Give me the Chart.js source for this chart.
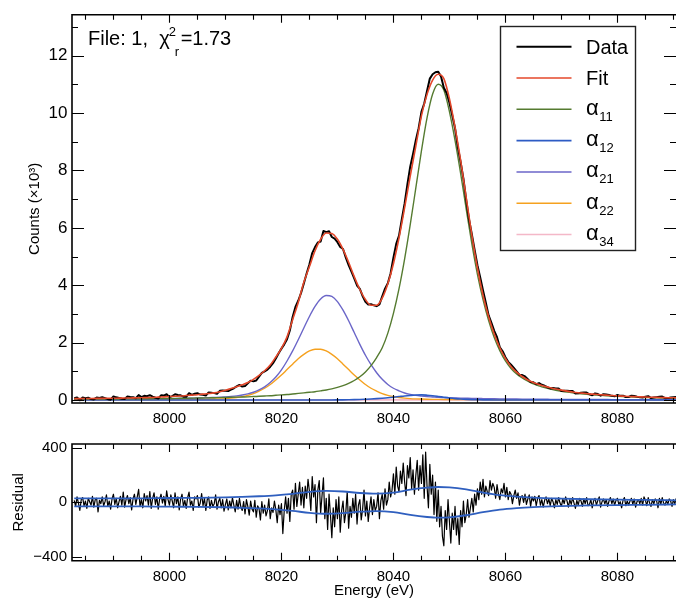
<!DOCTYPE html>
<html>
<head>
<meta charset="utf-8">
<script src="https://cdn.jsdelivr.net/npm/chart.js@4.4.1/dist/chart.umd.min.js"></script>
<style>
html,body{margin:0;padding:0;background:#fff;overflow:hidden;}
#wrap{position:relative;width:676px;height:598px;background:#fff;}
canvas{position:absolute;left:0;}
#topChart{top:0;}
#resChart{top:430px;}
</style>
</head>
<body>
<div id="wrap">
<canvas id="topChart" width="676" height="430"></canvas>
<canvas id="resChart" width="676" height="168"></canvas>
</div>
<script>
// ---------------- data ----------------
// energy axis (eV)
const energyStart = 7983;           // first sample of every series
const xMajorTicks = [8000, 8020, 8040, 8060, 8080];
const xMinorTicks = [7985, 7990, 7995, 8005, 8010, 8015, 8025, 8030, 8035, 8045, 8050, 8055, 8065, 8070, 8075, 8085, 8090];
const countsMajorTicks = [0, 2, 4, 6, 8, 10, 12];
const countsMinorTicks = [1, 3, 5, 7, 9, 11, 13];
const residualTicks = [-400, 0, 400];

// smooth curves, one value per eV from 7983 to 8091 (counts x10^3)
const fitCounts = [
  .05,.05,.052,.054,.056,.058,.06,.062,.065,.068,
  .072,.076,.08,.085,.09,.1,.11,.12,.13,.14,
  .155,.17,.185,.205,.225,.25,.29,.34,.4,.46,
  .53,.61,.72,.86,1.02,1.22,1.5,1.8,2.2,2.8,
  3.4,4.1,4.65,5.2,5.6,5.82,5.8,5.6,5.25,4.8,
  4.3,3.85,3.5,3.3,3.3,3.55,4.05,4.75,5.65,6.7,
  7.8,8.85,9.9,10.65,11.15,11.35,11.2,10.5,9.5,8.35,
  7.05,5.75,4.6,3.65,2.9,2.3,1.82,1.45,1.17,.97,
  .82,.7,.61,.54,.48,.43,.385,.345,.31,.28,
  .255,.235,.215,.2,.185,.17,.155,.145,.135,.125,
  .117,.11,.103,.097,.091,.086,.081,.077,.073
];
const alpha11 = [
  .029,.03,.031,.032,.033,.034,.035,.036,.037,.039,
  .04,.042,.043,.045,.047,.049,.051,.053,.056,.059,
  .062,.065,.068,.072,.076,.08,.085,.09,.095,.1,
  .105,.11,.12,.13,.14,.15,.165,.18,.19,.21,
  .23,.25,.27,.29,.32,.35,.39,.44,.5,.58,
  .68,.81,.98,1.2,1.48,1.82,2.33,3.02,3.88,4.92,
  6.11,7.39,8.68,9.83,10.66,11.0,10.8,10.05,9.05,7.9,
  6.65,5.45,4.38,3.5,2.77,2.18,1.72,1.36,1.1,.91,
  .77,.66,.56,.49,.43,.38,.34,.305,.275,.25,
  .228,.208,.19,.175,.16,.147,.136,.126,.117,.108,
  .1,.093,.086,.08,.074,.069,.064,.06,.056
];
const alpha12 = [
  .001,.001,.001,.001,.001,.001,.001,.001,.001,.001,
  .001,.001,.001,.001,.001,.001,.001,.001,.001,.001,
  .001,.001,.001,.001,.001,.001,.001,.001,.001,.001,
  .001,.001,.001,.001,.001,.001,.002,.002,.002,.002,
  .002,.002,.002,.003,.003,.003,.003,.004,.006,.009,
  .013,.019,.027,.036,.048,.062,.078,.098,.12,.142,
  .16,.174,.178,.168,.15,.125,.098,.072,.05,.034,
  .022,.014,.009,.006,.004,.003,.002,.002,.002,.001,
  .001,.001,.001,.001,.001,.001,.001,.001,.001,.001,
  .001,.001,.001,.001,.001,.001,.001,.001,.001,.001,
  .001,.001,.001,.001,.001,.001,.001,.001,.001
];
const alpha21 = [
  .019,.02,.021,.022,.023,.024,.025,.026,.027,.029,
  .03,.032,.034,.036,.038,.041,.044,.047,.05,.054,
  .058,.063,.068,.074,.08,.088,.096,.11,.126,.146,
  .174,.214,.27,.35,.46,.61,.8,1.05,1.36,1.71,
  2.1,2.51,2.91,3.26,3.52,3.64,3.61,3.43,3.13,2.76,
  2.35,1.94,1.56,1.23,.95,.72,.54,.41,.32,.245,
  .196,.16,.137,.119,.106,.093,.085,.078,.072,.066,
  .062,.058,.053,.05,.047,.044,.041,.038,.036,.034,
  .032,.03,.028,.027,.026,.024,.023,.022,.021,.02,
  .019,.019,.018,.017,.017,.016,.015,.015,.014,.014,
  .013,.013,.012,.012,.011,.011,.011,.01,.01
];
const alpha22 = [
  .006,.006,.007,.007,.007,.008,.008,.008,.009,.009,
  .009,.01,.01,.011,.011,.012,.014,.015,.016,.017,
  .018,.02,.022,.024,.028,.033,.04,.05,.065,.087,
  .12,.16,.22,.31,.41,.54,.7,.87,1.06,1.25,
  1.44,1.59,1.71,1.77,1.77,1.71,1.59,1.44,1.25,1.06,
  .87,.7,.54,.41,.31,.22,.16,.12,.087,.065,
  .05,.04,.033,.028,.024,.022,.02,.018,.017,.016,
  .015,.014,.013,.012,.012,.011,.011,.01,.01,.01,
  .009,.009,.009,.008,.008,.008,.007,.007,.007,.007,
  .006,.006,.006,.006,.006,.005,.005,.005,.005,.005,
  .004,.004,.004,.004,.004,.004,.003,.003,.003
];
// alpha34 is flat on the baseline; a few samples across the range
const alpha34Energy = [7983, 8000, 8020, 8040, 8060, 8080, 8091];
const alpha34 = [.003, .004, .005, .006, .005, .004, .003];

// measured spectrum, one value every 0.5 eV from 7983 (counts x10^3)
const dataCounts = [
  .065,.09, -.01,.086, .062,.083, .034,.02, .086,.072, .098,.064, .03,.011, .122,.093, .07,.046, .033,.12,
  .107,.099, .061,.173, .1,.147, .135,.167, .12,.08, .05,.165, .155,.2, .1,.135, .2,.175, .165,.117,
  .11,.237, .18,.217, .235,.19, .18,.155, .265,.252, .24,.22, .32,.335, .325,.315, .36,.41, .475,.525,
  .47,.485, .58,.675, .65,.68, .815,.945, 1.0,1.06, 1.16,1.285, 1.445,1.63, 1.79,1.94, 2.12,2.42, 2.89,3.24,
  3.46,3.73, 4.06,4.41, 4.73,5.12, 5.33,5.49, 5.52,5.89, 5.85,5.88, 5.68,5.62, 5.5,5.33, 5.26,4.96, 4.7,4.47,
  4.24,3.99, 3.87,3.62, 3.42,3.33, 3.34,3.3, 3.27,3.33, 3.61,3.88, 4.07,4.42, 4.96,5.44, 5.73,6.3, 6.85,7.52,
  8.13,8.57, 9.05,9.47, 10.04,10.33, 10.77,11.2, 11.35,11.42, 11.44,11.27, 10.88,10.7, 10.36,9.92, 9.47,8.81, 8.29,7.71,
  6.96,6.29, 5.78,5.23, 4.7,4.27, 3.82,3.39, 2.95,2.69, 2.41,2.19, 1.84,1.7, 1.49,1.33, 1.23,1.12, 1.0,.875,
  .87,.82, .725,.625, .62,.55, .59,.53, .495,.445, .405,.415, .405,.4, .315,.32, .32,.315, .315,.223,
  .235,.255, .26,.26, .2,.167, .23,.207, .15,.202, .19,.172, .145,.13, .175,.145, .15,.105, .105,.151,
  .142,.118, .1,.087, .118,.135, .067,.084, .101,.118, .121,.063, .066,.089, .097,.105, .068
];

// residual (counts), one value every 0.25 eV from 7983
const residual = [
  15,-30,40,-5, -60,20,35,-25, 10,-45,30,5, -20,45,-35,20, 30,-70,15,-10,
  40,-25,5,55, -30,10,-50,25, 60,-15,30,-40, 5,45,-20,75, -35,20,50,-10,
  35,-55,25,60, -15,40,95,-30, 20,-40,65,10, 50,-20,80,-45, 30,70,-15,40,
  -50,25,60,-5, 45,-30,85,20, -20,55,10,-40, 70,-10,40,-55, 25,60,-30,15,
  -45,35,75,-20, 10,-60,40,25, 50,-35,-5,65, -25,30,-60,20, 40,-45,15,-30,
  -10,55,-50,5, 30,-40,20,-65, -15,25,-55,10, -40,35,-20,-70, 15,-50,30,-35,
  -60,5,-85,20, -30,-95,10,-50, -70,15,-110,-25, -45,-130,5,-80, -20,-100,-60,25,
  -120,-40,-75,10, -55,-150,-20,-90, -10,-230,-60,40, -80,30,-140,60, 90,-50,140,-30,
  60,150,-20,110, -40,120,30,170, 80,-60,190,40, 130,-150,90,160, -80,50,180,-120,
  30,-200,60,-90, -260,-40,-180,20, -120,40,-220,-60, 10,-150,-70,80, -190,-30,-110,30,
  -80,60,-160,-20, 20,-130,-50,90, -100,10,-140,-40, 40,-90,20,-60, -30,70,-120,10,
  60,-50,100,-20, 20,150,40,90, 210,60,260,120, 80,230,140,290, 150,50,270,180,
  330,100,240,60, 200,310,90,270, 140,350,30,370, 120,-40,280,60, 200,-90,150,-140,
  90,-180,-30,-250, -320,-60,-200,20, -140,-300,-80,-200, -30,-240,-120,-310, -60,-180,10,-150,
  -90,20,-110,-40, 30,-70,60,-20, 100,20,150,60, 170,40,120,80, 50,160,90,140,
  110,30,130,60, 20,100,70,140, 40,110,20,80, 60,-10,50,90, 30,70,-20,40,
  50,0,60,-15, 25,55,-30,40, 10,45,-25,30, 50,-20,20,-35, 15,40,-10,25,
  -25,30,5,-40, 20,-15,35,-5, -30,25,-10,40, 10,-35,20,-15, 35,-5,-45,15,
  -20,30,10,-30, 25,-10,35,-25, -15,20,-40,10, 30,-20,15,40, -35,5,25,-10,
  20,-30,10,35, -10,25,-20,15, 30,-15,5,-40, 15,35,-25,10, -20,10,30,-15,
  25,-35,5,20, -10,30,-20,40, 15,-25,35,-5, -30,20,-10,25, 10,-40,30,-15,
  35,-5,-20,15, -15,25,10,-30, 20,-10,30,-20, -5
];

// one-sigma band of the residual (counts)
const envelopeEnergy = [7983, 7990, 7995, 8000, 8005, 8010, 8013, 8016, 8019, 8022, 8025, 8028, 8031, 8034, 8037, 8040, 8043, 8046, 8048, 8050, 8053, 8056, 8059, 8062, 8065, 8070, 8075, 8080, 8085, 8091];
const envelopeSigma  = [29, 29, 30, 32, 33, 36, 40, 45, 52, 63, 77, 84, 80, 69, 64, 72, 93, 108, 113, 110, 95, 72, 53, 42, 35, 28, 23, 20, 18, 15];

// legend
const legendNames = ['Data', 'Fit', 'α', 'α', 'α', 'α', 'α'];
const legendSubs  = ['', '', '11', '12', '21', '22', '34'];

// ---------------- styling ----------------
const FONT = '"Liberation Sans", Arial, Helvetica, sans-serif';
const COLORS = {
  data: '#000000', fit: '#e4472a', a11: '#557b30', a12: '#2d5bc4',
  a21: '#6b66c8', a22: '#f5a11f', a34: '#f4b8c8', env: '#2f5fbf'
};
const legendColors = [COLORS.data, COLORS.fit, COLORS.a11, COLORS.a12, COLORS.a21, COLORS.a22, COLORS.a34];
const legendWidths = [2, 1.5, 1.5, 1.8, 1.5, 1.5, 1.5];

function grid(start, step, n) {
  const g = [];
  for (let i = 0; i < n; i++) g.push(+(start + i * step).toFixed(2));
  return g;
}
function pts(xs, ys) { return ys.map((v, i) => ({ x: xs[i], y: v })); }

const energy1 = grid(energyStart, 1, fitCounts.length);
const energyHalf = grid(energyStart, 0.5, dataCounts.length);
const energyQuarter = grid(energyStart, 0.25, residual.length);

const X_MIN = 7982.6, X_MAX = 8090.46;

function framePlugin(cfg) {
  return {
    id: 'frameTicks',
    afterDatasetsDraw(chart) {
      const { ctx, chartArea: a } = chart;
      const xs = chart.scales.x, ys = chart.scales.y;
      ctx.save();
      ctx.strokeStyle = '#000';
      ctx.lineWidth = 1.6;
      ctx.beginPath();
      ctx.moveTo(a.right + 3, a.top); ctx.lineTo(a.left, a.top);
      ctx.lineTo(a.left, a.bottom); ctx.lineTo(a.right + 3, a.bottom);
      ctx.stroke();
      ctx.lineWidth = 1.1;
      ctx.beginPath();
      const vt = (v, len) => {
        const p = Math.round(xs.getPixelForValue(v)) + 0.5;
        ctx.moveTo(p, a.bottom); ctx.lineTo(p, a.bottom - len);
        ctx.moveTo(p, a.top); ctx.lineTo(p, a.top + len);
      };
      const ht = (v, len, right) => {
        const p = Math.round(ys.getPixelForValue(v)) + 0.5;
        ctx.moveTo(a.left, p); ctx.lineTo(a.left + len, p);
        if (right) { ctx.moveTo(a.right, p); ctx.lineTo(a.right - len, p); }
      };
      xMajorTicks.forEach(v => vt(v, cfg.xMajorLen));
      xMinorTicks.forEach(v => vt(v, cfg.xMinorLen));
      cfg.yMajor.forEach(v => ht(v, cfg.yMajorLen, cfg.right));
      cfg.yMinor.forEach(v => ht(v, cfg.yMinorLen, cfg.right));
      ctx.stroke();
      ctx.restore();
    }
  };
}

const titlePlugin = {
  id: 'fileTitle',
  afterDraw(chart) {
    const ctx = chart.ctx;
    ctx.save();
    ctx.fillStyle = '#000';
    ctx.textBaseline = 'alphabetic';
    ctx.textAlign = 'left';
    ctx.font = '20px ' + FONT;
    let x = 88; const y = 45;
    const p1 = 'File: 1,  χ';
    ctx.fillText(p1, x, y);
    x += ctx.measureText(p1).width;
    ctx.font = '13px ' + FONT;
    ctx.fillText('2', x - 1, y - 9);
    ctx.fillText('r', x + 5, y + 11);
    ctx.font = '20px ' + FONT;
    ctx.fillText('=1.73', x + 11, y);
    ctx.restore();
  }
};

const legendPlugin = {
  id: 'boxLegend',
  afterDraw(chart) {
    const ctx = chart.ctx;
    ctx.save();
    ctx.fillStyle = '#fff';
    ctx.fillRect(500.5, 26.5, 135, 224);
    ctx.strokeStyle = '#222';
    ctx.lineWidth = 1.4;
    ctx.strokeRect(500.5, 26.5, 135, 224);
    legendNames.forEach((name, i) => {
      const ry = 46.7 + i * 31.3;
      ctx.strokeStyle = legendColors[i];
      ctx.lineWidth = legendWidths[i];
      ctx.beginPath();
      ctx.moveTo(516.5, ry); ctx.lineTo(571.5, ry);
      ctx.stroke();
      ctx.fillStyle = '#000';
      ctx.textAlign = 'left';
      ctx.textBaseline = 'alphabetic';
      if (legendSubs[i]) {
        ctx.font = '22px ' + FONT;
        ctx.fillText(name, 586, ry + 5.5);
        const w = ctx.measureText(name).width;
        ctx.font = '13px ' + FONT;
        ctx.fillText(legendSubs[i], 586 + w + 0.5, ry + 11.5);
      } else {
        ctx.font = '20px ' + FONT;
        ctx.fillText(name, 586, ry + 7);
      }
    });
    ctx.restore();
  }
};

const baseLine = { pointRadius: 0, pointHoverRadius: 0, fill: false, borderJoinStyle: 'round' };

// ---------------- top panel ----------------
new Chart(document.getElementById('topChart'), {
  type: 'line',
  data: {
    datasets: [
      { ...baseLine, label: 'Fit', data: pts(energy1, fitCounts), borderColor: COLORS.fit, borderWidth: 1.6, cubicInterpolationMode: 'monotone', order: 0 },
      { ...baseLine, label: 'Data', data: pts(energyHalf, dataCounts), borderColor: COLORS.data, borderWidth: 2, tension: 0, order: 1 },
      { ...baseLine, label: 'α₁₁', data: pts(energy1, alpha11), borderColor: COLORS.a11, borderWidth: 1.4, cubicInterpolationMode: 'monotone', order: 2 },
      { ...baseLine, label: 'α₁₂', data: pts(energy1, alpha12), borderColor: COLORS.a12, borderWidth: 1.6, cubicInterpolationMode: 'monotone', order: 3 },
      { ...baseLine, label: 'α₂₁', data: pts(energy1, alpha21), borderColor: COLORS.a21, borderWidth: 1.4, cubicInterpolationMode: 'monotone', order: 4 },
      { ...baseLine, label: 'α₂₂', data: pts(energy1, alpha22), borderColor: COLORS.a22, borderWidth: 1.4, cubicInterpolationMode: 'monotone', order: 5 },
      { ...baseLine, label: 'α₃₄', data: pts(alpha34Energy, alpha34), borderColor: COLORS.a34, borderWidth: 1.6, cubicInterpolationMode: 'monotone', order: 6 }
    ]
  },
  options: {
    responsive: false, animation: false, devicePixelRatio: 1, events: [],
    parsing: false,
    layout: { padding: { top: 14, left: 0, right: 0, bottom: 0 }, autoPadding: false },
    plugins: { legend: { display: false }, tooltip: { enabled: false } },
    scales: {
      x: {
        type: 'linear', min: X_MIN, max: X_MAX,
        afterBuildTicks: s => { s.ticks = xMajorTicks.map(v => ({ value: v })); },
        afterFit: s => { s.height = 27; },
        grid: { display: false, drawTicks: false }, border: { display: false },
        ticks: { color: '#000', font: { family: FONT, size: 15 }, padding: 7, maxRotation: 0, autoSkip: false, callback: v => String(v) }
      },
      y: {
        type: 'linear', min: -0.104, max: 13.426,
        afterBuildTicks: s => { s.ticks = countsMajorTicks.map(v => ({ value: v })); },
        afterFit: s => { s.width = 72; },
        grid: { display: false, drawTicks: false }, border: { display: false },
        ticks: { color: '#000', font: { family: FONT, size: 17 }, padding: 4.5, callback: v => String(v) },
        title: { display: true, text: 'Counts (×10³)', color: '#000', font: { family: FONT, size: 15, lineHeight: 1 }, padding: { top: 27.5, bottom: 0 } }
      }
    }
  },
  plugins: [framePlugin({ xMajorLen: 8, xMinorLen: 5, yMajor: countsMajorTicks, yMinor: countsMinorTicks, yMajorLen: 12, yMinorLen: 6, right: true }), titlePlugin, legendPlugin]
});

// ---------------- residual panel ----------------
new Chart(document.getElementById('resChart'), {
  type: 'line',
  data: {
    datasets: [
      { ...baseLine, label: '+σ', data: pts(envelopeEnergy, envelopeSigma), borderColor: COLORS.env, borderWidth: 1.8, cubicInterpolationMode: 'monotone', order: 0 },
      { ...baseLine, label: '−σ', data: pts(envelopeEnergy, envelopeSigma.map(v => -v)), borderColor: COLORS.env, borderWidth: 1.8, cubicInterpolationMode: 'monotone', order: 0 },
      { ...baseLine, label: 'Residual', data: pts(energyQuarter, residual), borderColor: '#000', borderWidth: 1.2, tension: 0, order: 1 }
    ]
  },
  options: {
    responsive: false, animation: false, devicePixelRatio: 1, events: [],
    parsing: false,
    layout: { padding: { top: 10.7, left: 0, right: 0, bottom: 0 }, autoPadding: false },
    plugins: { legend: { display: false }, tooltip: { enabled: false } },
    scales: {
      x: {
        type: 'linear', min: X_MIN, max: X_MAX,
        afterBuildTicks: s => { s.ticks = xMajorTicks.map(v => ({ value: v })); },
        afterFit: s => { s.height = 37.3; },
        grid: { display: false, drawTicks: false }, border: { display: false },
        ticks: { color: '#000', font: { family: FONT, size: 15 }, padding: 7, maxRotation: 0, autoSkip: false, callback: v => String(v) },
        title: { display: true, text: 'Energy (eV)', color: '#000', font: { family: FONT, size: 15, lineHeight: 1 }, padding: { top: 0, bottom: 0 } }
      },
      y: {
        type: 'linear', min: -430, max: 430,
        afterBuildTicks: s => { s.ticks = residualTicks.map(v => ({ value: v })); },
        afterFit: s => { s.width = 72; },
        grid: { display: false, drawTicks: false }, border: { display: false },
        ticks: { color: '#000', font: { family: FONT, size: 15 }, padding: 5, callback: v => (v < 0 ? '\u2212' + Math.abs(v) : String(v)) },
        title: { display: true, text: 'Residual', color: '#000', font: { family: FONT, size: 15, lineHeight: 1 }, padding: { top: 11, bottom: 0 } }
      }
    }
  },
  plugins: [framePlugin({ xMajorLen: 8, xMinorLen: 5, yMajor: residualTicks, yMinor: [], yMajorLen: 10, yMinorLen: 5, right: false })]
});
</script>
</body>
</html>
